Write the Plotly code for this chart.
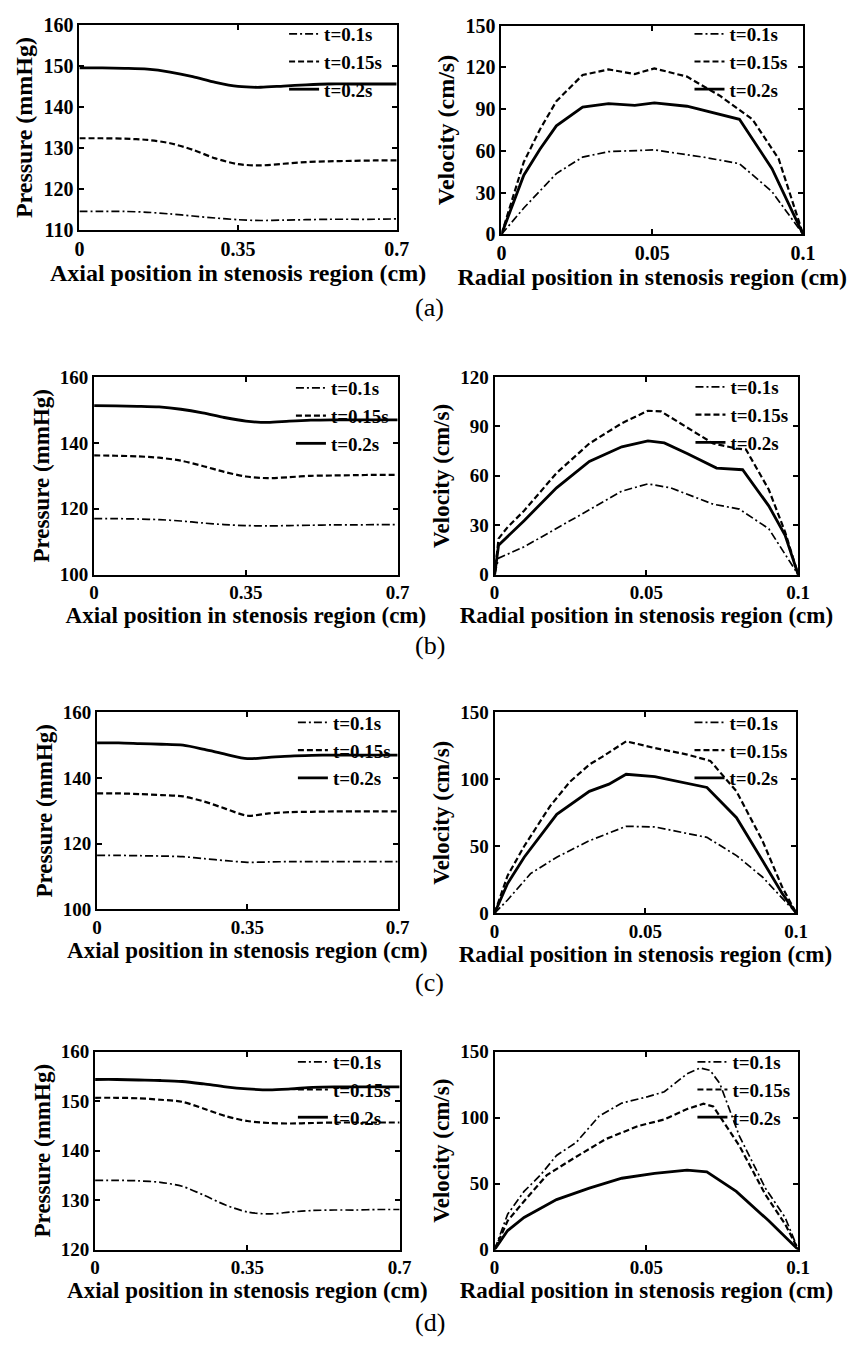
import plotly.graph_objects as go

W, H = 867, 1355

# ---------------- data ----------------
series_names = ["t=0.1s", "t=0.15s", "t=0.2s"]

axial_x = [0, 0.05, 0.1, 0.15, 0.2, 0.25, 0.3, 0.35, 0.4, 0.45, 0.5, 0.55, 0.6, 0.65, 0.7]
axial_ticks = [0, 0.35, 0.7]
axial_ticktext = ["0", "0.35", "0.7"]
radial_ticks = [0, 0.05, 0.1]
radial_ticktext = ["0", "0.05", "0.1"]

# (a) pressure
pa_01 = [114.6, 114.6, 114.6, 114.4, 114.0, 113.5, 113.0, 112.6, 112.4, 112.5, 112.6, 112.7, 112.7, 112.7, 112.8]
pa_015 = [132.4, 132.4, 132.3, 132.0, 131.2, 129.6, 127.5, 126.1, 125.8, 126.2, 126.6, 126.8, 126.9, 127.0, 127.0]
pa_02 = [149.5, 149.5, 149.4, 149.2, 148.5, 147.4, 146.0, 145.0, 144.8, 145.1, 145.4, 145.6, 145.6, 145.6, 145.6]
# (b) pressure
pb_01 = [117.0, 117.0, 116.9, 116.7, 116.3, 115.7, 115.2, 114.9, 114.8, 114.9, 115.0, 115.1, 115.1, 115.2, 115.2]
pb_015 = [136.2, 136.1, 135.9, 135.5, 134.6, 133.0, 131.2, 129.8, 129.3, 129.6, 130.0, 130.1, 130.2, 130.3, 130.3]
pb_02 = [151.3, 151.2, 151.1, 150.9, 150.2, 149.1, 147.7, 146.6, 146.2, 146.6, 146.9, 147.0, 147.0, 147.0, 147.0]
# (c) pressure
pc_01 = [116.4, 116.4, 116.3, 116.2, 116.0, 115.4, 114.8, 114.3, 114.4, 114.5, 114.5, 114.5, 114.5, 114.5, 114.5]
pc_015 = [135.3, 135.3, 135.1, 134.8, 134.4, 132.8, 130.6, 128.5, 129.2, 129.6, 129.7, 129.8, 129.8, 129.8, 129.8]
pc_02 = [150.7, 150.7, 150.5, 150.3, 150.0, 148.7, 147.2, 145.9, 146.3, 146.7, 146.9, 147.0, 147.0, 147.0, 147.0]
# (d) pressure
pd_01 = [134.0, 134.0, 133.9, 133.6, 132.8, 131.0, 129.0, 127.6, 127.2, 127.6, 127.9, 128.0, 128.0, 128.1, 128.1]
pd_015 = [150.7, 150.7, 150.6, 150.3, 149.9, 148.5, 147.0, 146.0, 145.6, 145.5, 145.6, 145.7, 145.7, 145.7, 145.7]
pd_02 = [154.4, 154.4, 154.3, 154.2, 154.0, 153.5, 152.9, 152.5, 152.3, 152.5, 152.8, 152.9, 152.9, 152.9, 152.9]

# (a) velocity
va_01_x = [0, 0.0074, 0.0182, 0.0269, 0.0355, 0.0507, 0.067, 0.0789, 0.0897, 0.1]
va_01 = [0, 18.9, 43.7, 55.5, 59.5, 60.7, 55.5, 50.8, 30.7, 0]
va_015_x = [0, 0.0074, 0.0128, 0.0182, 0.0269, 0.0355, 0.0442, 0.0507, 0.0615, 0.0724, 0.0832, 0.0919, 0.1]
va_015 = [0, 52.0, 75.6, 95.7, 114.6, 118.6, 115.3, 119.3, 113.4, 99.7, 82.7, 54.3, 0]
va_02_x = [0, 0.0074, 0.0128, 0.0182, 0.0269, 0.0355, 0.0442, 0.0507, 0.0615, 0.0702, 0.0789, 0.0897, 0.1]
va_02 = [0, 42.5, 61.4, 78.0, 91.5, 94.0, 92.8, 94.5, 92.1, 87.5, 82.7, 47.2, 0]
# (b) velocity
vb_01_x = [0, 0.0013, 0.0097, 0.0204, 0.0312, 0.0419, 0.0505, 0.058, 0.072, 0.0806, 0.0903, 0.1]
vb_01 = [0, 10.0, 16.9, 27.9, 39.4, 50.7, 55.1, 52.7, 42.8, 39.8, 27.9, 0]
vb_015_x = [0, 0.0013, 0.0043, 0.0097, 0.0204, 0.0312, 0.0419, 0.0505, 0.0548, 0.0634, 0.072, 0.0796, 0.0828, 0.0903, 0.0957, 0.1]
vb_015 = [0, 21.9, 28.9, 38.8, 61.7, 79.6, 91.9, 99.5, 99.1, 89.6, 79.6, 76.6, 76.0, 51.7, 25.9, 0]
vb_02_x = [0, 0.0013, 0.0097, 0.0204, 0.0312, 0.0419, 0.0505, 0.0559, 0.0634, 0.0731, 0.0817, 0.0903, 0.0957, 0.1]
vb_02 = [0, 17.9, 32.8, 52.7, 68.7, 77.6, 81.2, 80.0, 73.6, 64.7, 63.7, 41.8, 23.9, 0]
# (c) velocity
vc_01_x = [0, 0.0043, 0.0119, 0.0206, 0.0314, 0.0436, 0.0531, 0.0704, 0.0802, 0.0888, 0.1]
vc_01 = [0, 9.8, 29.5, 41.8, 54.1, 64.9, 64.4, 56.6, 43.0, 27.0, 0]
vc_015_x = [0, 0.0043, 0.0098, 0.0184, 0.0249, 0.0314, 0.0358, 0.0436, 0.0531, 0.0639, 0.0715, 0.0802, 0.0888, 0.0953, 0.1]
vc_015 = [0, 28.0, 50.0, 80.0, 98.0, 111.0, 117.0, 128.4, 123.4, 118.5, 113.8, 91.0, 54.1, 19.7, 0]
vc_02_x = [0, 0.0043, 0.0098, 0.0206, 0.0314, 0.0379, 0.0436, 0.0531, 0.0704, 0.0802, 0.0888, 0.0953, 0.1]
vc_02 = [0, 22.1, 41.8, 73.8, 91.0, 96.4, 103.8, 102.0, 93.9, 71.3, 39.3, 14.8, 0]
# (d) velocity
vd_01_x = [0, 0.0043, 0.0097, 0.0151, 0.0204, 0.0269, 0.0344, 0.0419, 0.0505, 0.0559, 0.0634, 0.0677, 0.071, 0.0742, 0.0806, 0.0892, 0.0957, 0.1]
vd_01 = [0, 26.8, 44.1, 56.5, 71.4, 81.3, 101.2, 111.1, 116.0, 119.7, 133.4, 137.8, 135.9, 125.9, 86.3, 46.6, 24.3, 0]
vd_015_x = [0, 0.0043, 0.0097, 0.0172, 0.0258, 0.0366, 0.0473, 0.0559, 0.0634, 0.0688, 0.072, 0.0806, 0.0892, 0.0957, 0.1]
vd_015 = [0, 21.8, 36.7, 56.5, 68.9, 83.8, 93.7, 98.7, 106.6, 110.6, 108.6, 78.8, 41.7, 19.3, 0]
vd_02_x = [0, 0.0043, 0.0097, 0.0204, 0.0312, 0.0419, 0.0527, 0.0634, 0.0699, 0.0796, 0.0903, 0.1]
vd_02 = [0, 14.4, 24.3, 37.9, 46.6, 54.1, 57.8, 60.3, 59.0, 44.1, 21.8, 0]

captions = ["(a)", "(b)", "(c)", "(d)"]

pressure_sets = [
    ([pa_01, pa_015, pa_02], [110, 160], [110, 120, 130, 140, 150, 160]),
    ([pb_01, pb_015, pb_02], [100, 160], [100, 120, 140, 160]),
    ([pc_01, pc_015, pc_02], [100, 160], [100, 120, 140, 160]),
    ([pd_01, pd_015, pd_02], [120, 160], [120, 130, 140, 150, 160]),
]
velocity_sets = [
    ([(va_01_x, va_01), (va_015_x, va_015), (va_02_x, va_02)], [0, 150], [0, 30, 60, 90, 120, 150]),
    ([(vb_01_x, vb_01), (vb_015_x, vb_015), (vb_02_x, vb_02)], [0, 120], [0, 30, 60, 90, 120]),
    ([(vc_01_x, vc_01), (vc_015_x, vc_015), (vc_02_x, vc_02)], [0, 150], [0, 50, 100, 150]),
    ([(vd_01_x, vd_01), (vd_015_x, vd_015), (vd_02_x, vd_02)], [0, 150], [0, 50, 100, 150]),
]

# ---------------- layout (pixel geometry) ----------------
# plot boxes: (left, right, top, bottom) in pixels
left_boxes = [(76, 400, 14, 223), (91, 401, 372, 573), (94, 401, 713, 913), (92, 403, 1058, 1259)]
right_boxes = [(507, 815, 15, 227), (500, 810, 372, 573), (500, 808, 713, 917), (500, 810, 1058, 1259)]
# legend anchors: (sample left x, first row center y)
left_leg = [(283, 33), (290, 393), (292, 733), (292, 1078)]
right_leg = [(697, 33), (698, 392), (697, 733), (700, 1078)]
caption_y = [301, 645, 988, 1333]
tick_fs = [20, 19, 19, 19]
title_fs = [24, 23, 23, 23]
legend_fs = 19

FONT = "Liberation Serif"
styles = [
    dict(color="black", width=1.7, dash="8px,3px,2px,3px"),
    dict(color="black", width=2.2, dash="6px,3px"),
    dict(color="black", width=2.8),
]


def fx(px):
    return px / W


def fy(py):
    return 1 - py / H


fig = go.Figure()
layout = dict(
    width=W, height=H, margin=dict(l=0, r=0, t=0, b=0),
    paper_bgcolor="white", plot_bgcolor="white",
    font=dict(family=FONT, color="black"),
    annotations=[],
)


def axis_common(fs):
    return dict(
        showgrid=False, zeroline=False, showline=True, mirror="ticks",
        linecolor="black", linewidth=2, ticks="inside", ticklen=5,
        tickwidth=1.5, tickcolor="black",
        tickfont=dict(family=FONT, size=fs, color="black", weight="bold"),
    )


k = 0
for i in range(4):
    for side in range(2):
        k += 1
        sx = "" if k == 1 else str(k)
        box = left_boxes[i] if side == 0 else right_boxes[i]
        leg = left_leg[i] if side == 0 else right_leg[i]
        l, r, t, b = box
        fs = tick_fs[i]
        tfs = title_fs[i]
        xa = axis_common(fs)
        ya = axis_common(fs)
        xa.update(domain=[fx(l), fx(r)], anchor="y" + sx)
        ya.update(domain=[fy(b), fy(t)], anchor="x" + sx)
        if side == 0:
            data, yr, yt = pressure_sets[i]
            xa.update(range=[0, 0.7], tickvals=axial_ticks, ticktext=axial_ticktext,
                      title=dict(text="Axial position in stenosis region (cm)",
                                 font=dict(family=FONT, size=tfs, weight="bold"), standoff=4))
            ya.update(range=yr, tickvals=yt,
                      title=dict(text="Pressure (mmHg)",
                                 font=dict(family=FONT, size=tfs, weight="bold"), standoff=4))
            for j in range(3):
                fig.add_trace(go.Scatter(
                    x=axial_x, y=data[j], mode="lines", name=series_names[j],
                    line=dict(shape="spline", smoothing=0.8, **styles[j]),
                    xaxis="x" + sx, yaxis="y" + sx, legend="legend" + sx))
        else:
            data, yr, yt = velocity_sets[i]
            xa.update(range=[0, 0.1], tickvals=radial_ticks, ticktext=radial_ticktext,
                      title=dict(text="Radial position in stenosis region (cm)",
                                 font=dict(family=FONT, size=tfs, weight="bold"), standoff=4))
            ya.update(range=yr, tickvals=yt,
                      title=dict(text="Velocity (cm/s)",
                                 font=dict(family=FONT, size=tfs, weight="bold"), standoff=4))
            for j in range(3):
                xs, ys = data[j]
                fig.add_trace(go.Scatter(
                    x=xs, y=ys, mode="lines", name=series_names[j],
                    line=dict(**styles[j]),
                    xaxis="x" + sx, yaxis="y" + sx, legend="legend" + sx))
        layout["xaxis" + sx] = xa
        layout["yaxis" + sx] = ya
        layout["legend" + sx] = dict(
            x=fx(leg[0] + 2), y=fy(leg[1] - 29), xanchor="left", yanchor="top",
            bgcolor="rgba(0,0,0,0)", borderwidth=0,
            font=dict(family=FONT, size=legend_fs, color="black", weight="bold"),
            tracegroupgap=0,
        )
    layout["annotations"].append(dict(
        text=captions[i], x=fx(434), y=fy(caption_y[i]), xref="paper", yref="paper",
        xanchor="center", yanchor="middle", showarrow=False,
        font=dict(family=FONT, size=26, color="black")))

fig.update_layout(**layout)
fig.write_html("out.html")
